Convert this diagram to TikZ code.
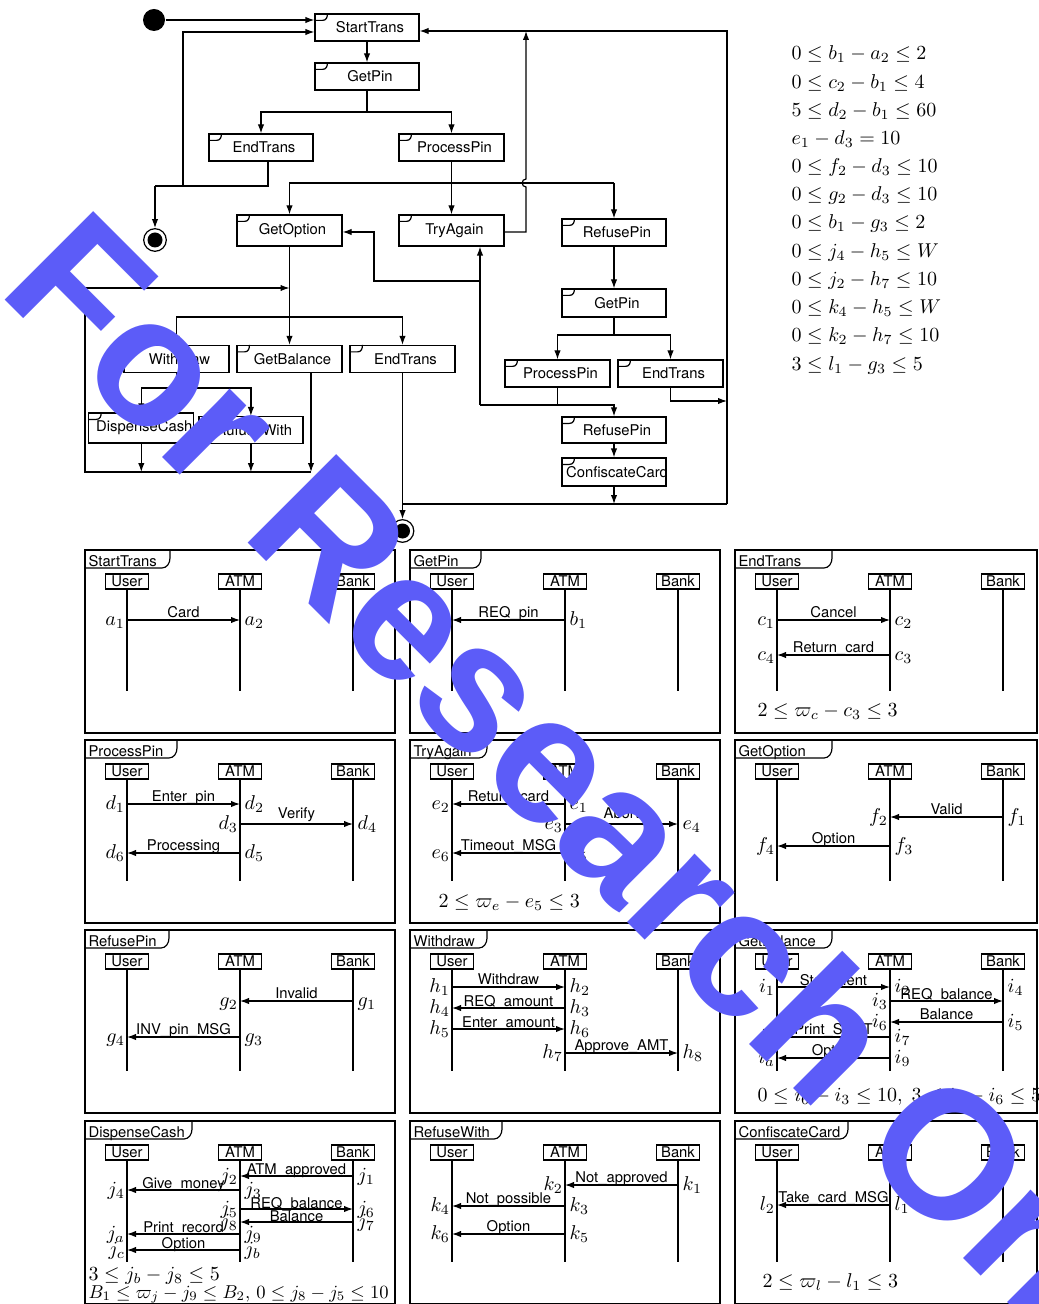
\documentclass[tikz,border=0pt]{standalone}
\usepackage[no-math]{fontspec}
\usetikzlibrary{arrows.meta,calc}
\newfontfamily\hv{TeX Gyre Heros}
\newfontfamily\wmf{Liberation Sans}
\definecolor{wmblue}{RGB}{92,92,248}
\newcommand\acttab[1]{\draw ([shift={(0,7)}]#1.north west) -- ([shift={(8,7)}]#1.north west) .. controls ([shift={(12,7)}]#1.north west) and ([shift={(13,4)}]#1.north west) .. ([shift={(13,0)}]#1.north west);}
\newcommand\actbox[6]{\node[abox, minimum width=#4*0.5pt, minimum height=#5*0.5pt] (#1) at (#2,#3) {\makebox[0pt][c]{\hspace*{3pt}#6}};\acttab{#1}}
\newcommand\sdpanel[6]{%
  \draw (#2,#3) rectangle ({#2+#6},{#3+183});
  \node[lbl, anchor=base west] (#1t) at ({#2+3},{#3+16}) {#4};
  \draw (#2,{#3+18}) -- ({#2+#5-8},{#3+18}) .. controls ({#2+#5-3},{#3+18}) and ({#2+#5},{#3+13}) .. ({#2+#5},{#3+8}) -- ({#2+#5},#3);
  \foreach \ox/\nm/\tx in {42/u/User,155/a/ATM,268/b/Bank}{%
    \node[head] (#1\nm) at ({#2+\ox},{#3+31.5}) {\tx};
    \draw (#1\nm.south) -- ({#2+\ox},{#3+141});}}
\newcommand\sdmsg[5][3]{\draw[arr] (#2,#4) -- (#3,#4); \node[lbl, anchor=base] (msg-#2-#4) at ({(#2+#3)/2},{#4-#1}) {#5};}
\newcommand\sdL[3]{\node[mth, anchor=base east] (L-#1-#2) at ({#1-1.5},{#2+5}) {$#3$};}
\newcommand\sdR[3]{\node[mth, anchor=base west] (R-#1-#2) at ({#1+4},{#2+5}) {$#3$};}
\begin{document}
\begin{tikzpicture}[x=0.5pt,y=-0.5pt, line width=0.6pt,
  arr/.style={-{Latex[length=4.5pt,width=3.2pt]}},
  abox/.style={draw, inner sep=0pt, font=\hv\fontsize{7.4}{8.8}\selectfont},
  head/.style={draw, inner sep=0pt, minimum width=21.5pt, minimum height=7.5pt, font=\hv\fontsize{7.4}{8.8}\selectfont},
  lbl/.style={inner sep=0pt, font=\hv\fontsize{7.4}{8.8}\selectfont},
  mth/.style={inner sep=0pt}]
\useasboundingbox (0,0) rectangle (1038,1304);
\clip (0,0) rectangle (1038,1304);

% ---------- activity diagram ----------
\node[circle, fill, minimum size=11pt, inner sep=0pt] (start) at (154,20) {};
\node[circle, draw, minimum size=11.3pt, inner sep=0pt] (fin1) at (155,240) {};
\node[circle, fill, minimum size=7.5pt, inner sep=0pt] (fin1c) at (fin1) {};
\node[circle, draw, minimum size=11.3pt, inner sep=0pt] (fin2) at (402.5,531) {};
\node[circle, fill, minimum size=7.5pt, inner sep=0pt] (fin2c) at (fin2) {};

\actbox{st}{367}{27.5}{104}{27}{StartTrans}
\actbox{gp}{367}{76.5}{104}{27}{GetPin}
\actbox{et1}{261}{147.5}{104}{27}{EndTrans}
\actbox{pp1}{451.5}{147.5}{105}{27}{ProcessPin}
\actbox{go}{289.5}{230.5}{105}{31}{GetOption}
\actbox{ta}{451.5}{230.5}{105}{31}{TryAgain}
\actbox{rp1}{614}{232.5}{104}{27}{RefusePin}
\actbox{gp2}{614}{303}{104}{28}{GetPin}
\actbox{pp2}{557.5}{373.5}{105}{27}{ProcessPin}
\actbox{et2}{670.5}{373.5}{105}{27}{EndTrans}
\actbox{rp2}{614}{430}{104}{26}{RefusePin}
\actbox{cc}{614}{472}{104}{28}{ConfiscateCard}
\actbox{wd}{176.5}{359}{105}{27}{Withdraw}
\actbox{gb}{289.5}{359}{105}{27}{GetBalance}
\actbox{et3}{402.5}{359}{105}{27}{EndTrans}
\actbox{dc}{141.3}{428}{105}{30}{DispenseCash}
\actbox{rw}{250.9}{430}{104}{27}{RufuseWith}

\coordinate (cA) at (183,32);
\coordinate (cB) at (183,186);
\coordinate (cC) at (268,186);
\coordinate (cD) at (155,186);
\draw (et1.south -| cC) -- (cC) -- (cD);
\draw[arr] (cD) -- (fin1.north);
\draw[arr] (cB) -- (cA) -- (cA -| st.west);
\draw[arr] (start) -- (start -| st.west);
\draw[arr] (st) -- (gp);
\coordinate (gj) at (367,112);
\draw (gp) -- (gj);
\draw[arr] (gj) -| (et1.north);
\draw[arr] (gj) -| (pp1.north);
\coordinate (pj) at (451.5,183);
\draw[arr] (pp1) -- (ta);
\draw[arr] (pj) -| (go.north);
\coordinate (rpj) at (614,183);
\draw (pj) -- (rpj);
\draw[arr] (rpj) -- (rp1.north);
\coordinate (tR) at (526,232);
\coordinate (tT) at (526,31);
\draw[arr] (ta.east |- tR) -- (tR) -- (526,187) .. controls (521,187) and (521,179) .. (526,179) -- (tT);
\coordinate (rT) at (727,31);
\coordinate (rB) at (727,504);
\coordinate (fj) at (402.5,504);
\draw[arr] (rB) -- (rT) -- (rT -| st.east);
\draw (rB) -- (fj);
\draw[arr] (et3) -- (fin2);
\coordinate (oj) at (289.5,317);
\draw (go) -- (oj);
\draw[arr] (oj) -| (wd.north);
\draw[arr] (oj) -- (gb.north);
\draw[arr] (oj) -| (et3.north);
\coordinate (lT) at (85,288);
\coordinate (lB) at (85,472);
\coordinate (lE) at (311,472);
\draw[arr] (lE) -- (lB) -- (lT) -- (lT -| go.south);
\draw[arr] (gb.south -| lE) -- (lE);
\coordinate (wj) at (176.5,388);
\draw (wd) -- (wj);
\draw[arr] (wj) -| (dc.north);
\draw[arr] (wj) -| (rw.north);
\draw[arr] (dc) -- (dc |- lB);
\draw[arr] (rw) -- (rw |- lB);
\draw[arr] (rp1) -- (gp2);
\coordinate (g2j) at (614,335);
\draw (gp2) -- (g2j);
\draw[arr] (g2j) -| (pp2.north);
\draw[arr] (g2j) -| (et2.north);
\coordinate (e2c) at (670.5,401);
\draw[arr] (et2) -- (e2c) -- (e2c -| rB);
\coordinate (p2j) at (557.5,405);
\coordinate (tj) at (480,405);
\coordinate (tm) at (480,281);
\coordinate (tg) at (374,281);
\coordinate (tg2) at (374,232);
\draw (pp2) -- (p2j);
\draw[arr] (tj) -| (rp2.north);
\draw[arr] (tj) -- (tj |- ta.south);
\draw[arr] (tm) -- (tg) -- (tg2) -- (tg2 -| go.east);
\draw[arr] (rp2) -- (cc);
\draw[arr] (cc) -- (cc |- rB);

% ---------- constraint list ----------
\foreach \yy/\cc [count=\k] in {55/{0 \le b_1 - a_2 \le 2},84/{0 \le c_2 - b_1 \le 4},112/{5 \le d_2 - b_1 \le 60},140/{e_1 - d_3 = 10},168/{0 \le f_2 - d_3 \le 10},196/{0 \le g_2 - d_3 \le 10},224/{0 \le b_1 - g_3 \le 2},253/{0 \le j_4 - h_5 \le W},281/{0 \le j_2 - h_7 \le 10},309/{0 \le k_4 - h_5 \le W},337/{0 \le k_2 - h_7 \le 10},366/{3 \le l_1 - g_3 \le 5}}
  \node[mth, anchor=base west] (cons\k) at (791,\yy+5) {$\cc$};

% ---------- sequence panels ----------
\sdpanel{sa}{85}{550}{StartTrans}{85}{310}
\sdmsg{127}{240}{620}{Card}
\sdL{127}{620}{a_1}\sdR{240}{620}{a_2}

\sdpanel{sb}{410}{550}{GetPin}{71}{310}
\sdmsg{565}{452}{620}{REQ\_pin}
\sdL{452}{620}{b_2}\sdR{565}{620}{b_1}

\sdpanel{sc}{735}{550}{EndTrans}{97}{302}
\sdmsg{777}{890}{620}{Cancel}
\sdL{777}{620}{c_1}\sdR{890}{620}{c_2}
\sdmsg{890}{777}{655}{Return\_card}
\sdR{890}{655}{c_3}\sdL{777}{655}{c_4}
\node[mth, anchor=base west] (kc) at (757,716) {$2 \le \varpi_c - c_3 \le 3$};

\sdpanel{sd}{85}{740}{ProcessPin}{92}{310}
\sdmsg{127}{240}{804}{Enter\_pin}
\sdL{127}{804}{d_1}\sdR{240}{804}{d_2}
\sdmsg[6]{240}{353}{824}{Verify}
\sdL{240}{824}{d_3}\sdR{353}{824}{d_4}
\sdmsg{240}{127}{853}{Processing}
\sdR{240}{853}{d_5}\sdL{127}{853}{d_6}

\sdpanel{se}{410}{740}{TryAgain}{77}{310}
\sdmsg{565}{452}{804}{Return\_card}
\sdR{565}{804}{e_1}\sdL{452}{804}{e_2}
\sdmsg[6]{565}{678}{824}{Abort}
\sdL{565}{824}{e_3}\sdR{678}{824}{e_4}
\sdmsg{565}{452}{853}{Timeout\_MSG}
\sdR{565}{853}{e_5}\sdL{452}{853}{e_6}
\node[mth, anchor=base west] (ke) at (438,907) {$2 \le \varpi_e - e_5 \le 3$};

\sdpanel{sf}{735}{740}{GetOption}{97}{302}
\sdmsg{1003}{890}{817}{Valid}
\sdR{1003}{817}{f_1}\sdL{890}{817}{f_2}
\sdmsg{890}{777}{846}{Option}
\sdR{890}{846}{f_3}\sdL{777}{846}{f_4}

\sdpanel{sg}{85}{930}{RefusePin}{84}{310}
\sdmsg{353}{240}{1001}{Invalid}
\sdR{353}{1001}{g_1}\sdL{240}{1001}{g_2}
\sdmsg{240}{127}{1037}{INV\_pin\_MSG}
\sdR{240}{1037}{g_3}\sdL{127}{1037}{g_4}

\sdpanel{sh}{410}{930}{Withdraw}{77}{310}
\sdmsg{452}{565}{987}{Withdraw}
\sdL{452}{987}{h_1}\sdR{565}{987}{h_2}
\sdmsg[2]{565}{452}{1008}{REQ\_amount}
\sdR{565}{1008}{h_3}\sdL{452}{1008}{h_4}
\sdmsg[2]{452}{565}{1029}{Enter\_amount}
\sdL{452}{1029}{h_5}\sdR{565}{1029}{h_6}
\sdmsg{565}{678}{1053}{Approve\_AMT}
\sdL{565}{1053}{h_7}\sdR{678}{1053}{h_8}

\sdpanel{si}{735}{930}{GetBalance}{97}{302}
\sdmsg[2]{777}{890}{987}{Statement}
\sdL{777}{987}{i_1}\sdR{890}{987}{i_2}
\sdmsg[1.5]{890}{1003}{1001}{REQ\_balance}
\sdL{890}{1001}{i_3}\sdR{1003}{987}{i_4}
\sdmsg{1003}{890}{1022}{Balance}
\sdR{1003}{1022}{i_5}\sdL{890}{1022}{i_6}
\sdmsg{890}{777}{1037}{Print\_STMT}
\sdR{890}{1037}{i_7}\sdL{777}{1037}{i_8}
\sdmsg{890}{777}{1058}{Option}
\sdR{890}{1058}{i_9}\sdL{777}{1058}{i_a}
\node[mth, anchor=base west] (ki) at (757,1101) {$0 \le i_6 - i_3 \le 10,\; 3 \le i_9 - i_6 \le 5$};

\sdpanel{sj}{85}{1121}{DispenseCash}{107}{310}
\sdmsg[2]{353}{240}{1176}{ATM\_approved}
\sdR{353}{1176}{j_1}\sdL{240}{1176}{j_2}
\sdmsg[2]{240}{127}{1190}{Give\_money}
\sdR{240}{1190}{j_3}\sdL{127}{1190}{j_4}
\sdmsg[1]{240}{353}{1209}{REQ\_balance}
\sdL{240}{1209}{j_5}\sdR{353}{1209}{j_6}
\sdmsg[1]{353}{240}{1222}{Balance}
\sdR{353}{1222}{j_7}\sdL{240}{1222}{j_8}
\sdmsg[2]{240}{127}{1234}{Print\_record}
\sdR{240}{1234}{j_9}\sdL{127}{1234}{j_a}
\sdmsg[2]{240}{127}{1250}{Option}
\sdR{240}{1250}{j_b}\sdL{127}{1250}{j_c}
\node[mth, anchor=base west] (kj1) at (88,1280) {$3 \le j_b - j_8 \le 5$};
\node[mth, anchor=base west] (kj2) at (88,1298) {\scalebox{0.93}{$B_1 \le \varpi_j - j_9 \le B_2,\, 0 \le j_8 - j_5 \le 10$}};

\sdpanel{sk}{410}{1121}{RefuseWith}{92}{310}
\sdmsg{678}{565}{1185}{Not\_approved}
\sdR{678}{1185}{k_1}\sdL{565}{1185}{k_2}
\sdmsg{565}{452}{1206}{Not\_possible}
\sdR{565}{1206}{k_3}\sdL{452}{1206}{k_4}
\sdmsg{565}{452}{1234}{Option}
\sdR{565}{1234}{k_5}\sdL{452}{1234}{k_6}

\sdpanel{sl}{735}{1121}{ConfiscateCard}{113}{302}
\sdmsg{890}{777}{1205}{Take\_card\_MSG}
\sdR{890}{1205}{l_1}\sdL{777}{1205}{l_2}
\node[mth, anchor=base west] (kl) at (762,1287) {$2 \le \varpi_l - l_1 \le 3$};

% ---------- watermark ----------
\node[anchor=base west, rotate=-45, inner sep=0pt, text=wmblue, font=\wmf\bfseries\fontsize{91}{91}\selectfont] (wm) at (-4,291) {For Research Only};
\end{tikzpicture}
\end{document}
